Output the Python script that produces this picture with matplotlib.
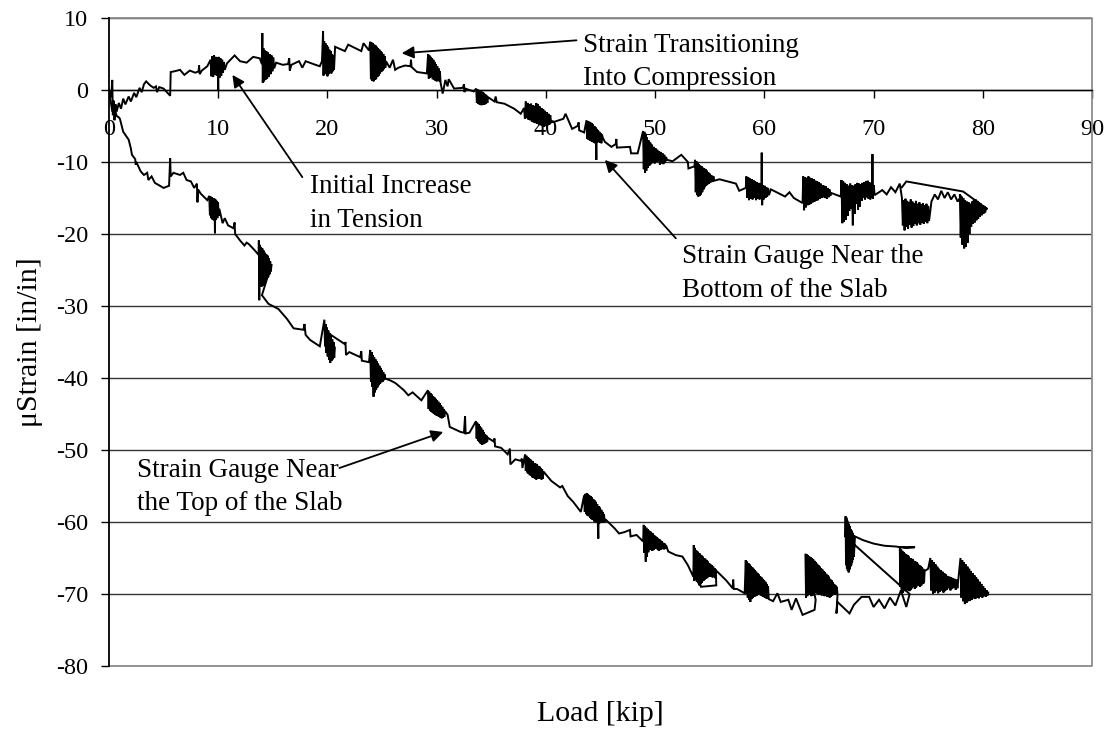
import matplotlib
matplotlib.use("Agg")
import matplotlib.pyplot as plt

plt.rcParams['font.family'] = ['Liberation Serif', 'DejaVu Serif']
plt.rcParams['axes.unicode_minus'] = False

# ---------------- data ----------------
# Strain gauge near the bottom of the slab (upper curve)
bottom_x = [
    0.0, 0.2, 0.3, 0.35, 0.45, 0.5, 0.6, 0.7, 0.9, 1.1, 1.3, 1.5, 1.8, 2.0, 2.3, 2.5, 2.8, 3.0, 3.2, 3.4,
    3.8, 4.1, 4.3, 4.4, 4.6, 5.0, 5.6, 5.65, 6.0, 6.5, 6.9, 7.4, 7.9, 8.2, 8.25, 8.3, 8.5, 9.0,
    9.30, 9.38, 9.46, 9.54, 9.62, 9.70, 9.78, 9.86, 9.94, 10.00, 10.04, 10.12, 10.20, 10.28, 10.36, 10.44, 10.52, 10.60,
    10.8, 11.5, 12.0, 12.6, 13.2, 13.8, 14.0,
    14.04, 14.08, 14.14, 14.20, 14.26, 14.32, 14.40, 14.48, 14.56, 14.64, 14.72, 14.80, 14.88, 14.96, 15.04, 15.12,
    15.3, 15.9, 16.4, 16.5, 16.55, 16.7, 17.4, 17.7, 18.0, 18.9, 19.3, 19.5,
    19.60, 19.64, 19.70, 19.76, 19.82, 19.88, 19.94, 20.00, 20.06, 20.12, 20.18, 20.24, 20.30, 20.36, 20.42, 20.48, 20.54, 20.60, 20.66, 20.70,
    21.6, 21.9, 23.1, 23.3, 23.8,
    23.92, 23.98, 24.04, 24.10, 24.16, 24.22, 24.28, 24.34, 24.40, 24.46, 24.52, 24.58, 24.64, 24.70, 24.76, 24.82, 24.88, 24.94, 25.00, 25.06, 25.12, 25.18, 25.24, 25.30, 25.36,
    25.7, 26.0, 26.2, 26.5, 27.1, 27.6, 27.65, 27.7, 28.2, 29.1,
    29.22, 29.28, 29.34, 29.40, 29.46, 29.52, 29.58, 29.64, 29.70, 29.76, 29.82, 29.88, 29.94, 30.00, 30.06, 30.12, 30.18, 30.24, 30.30, 30.36,
    30.55, 30.8, 31.0, 31.1, 31.6, 32.4, 32.5, 32.55, 32.6, 33.4,
    33.62, 33.68, 33.74, 33.80, 33.86, 33.92, 33.98, 34.04, 34.10, 34.16, 34.22, 34.28, 34.34, 34.40, 34.46, 34.52, 34.58, 34.64, 34.70,
    35.3, 35.4, 35.5, 36.2, 37.1, 37.7,
    38.00, 38.08, 38.16, 38.24, 38.32, 38.40, 38.48, 38.56, 38.64, 38.72, 38.80, 38.88, 38.96, 39.04, 39.12, 39.20,
    39.28, 39.36, 39.44, 39.52, 39.60, 39.68, 39.76, 39.84, 39.92, 40.00, 40.08, 40.16, 40.24, 40.32, 40.40, 40.48,
    40.8, 41.6, 41.8, 42.4, 42.9, 43.0, 43.05, 43.5,
    43.72, 43.78, 43.84, 43.90, 43.96, 44.02, 44.08, 44.14, 44.20, 44.26, 44.32, 44.38, 44.44, 44.50, 44.56, 44.62, 44.66, 44.72, 44.78, 44.84, 44.90, 44.96, 45.02, 45.08, 45.14, 45.20,
    45.4, 46.0, 46.4, 46.45, 46.5, 47.7, 47.8, 48.4,
    48.90, 48.96, 49.02, 49.08, 49.14, 49.20, 49.26, 49.32, 49.40, 49.48, 49.56, 49.64, 49.72, 49.80, 49.88,
    49.96, 50.04, 50.12, 50.20, 50.28, 50.36, 50.44, 50.52, 50.60, 50.68, 50.76, 50.84, 50.92, 51.00,
    51.1, 51.6, 52.4, 53.0, 53.05, 53.6,
    53.66, 53.72, 53.78, 53.84, 53.90, 53.96, 54.02, 54.08, 54.14, 54.20, 54.26, 54.32, 54.38, 54.44, 54.50,
    54.56, 54.62, 54.68, 54.74, 54.80, 54.86, 54.92, 54.98, 55.04, 55.10, 55.16, 55.22, 55.28, 55.34, 55.40,
    55.9, 57.4, 57.7, 58.3,
    58.36, 58.44, 58.52, 58.60, 58.68, 58.76, 58.84, 58.92, 59.00, 59.08, 59.16, 59.24, 59.32, 59.40,
    59.48, 59.56, 59.64, 59.72, 59.76, 59.80, 59.86, 59.94, 60.02, 60.10, 60.18, 60.26, 60.34, 60.42,
    60.6, 61.9, 62.3, 62.7, 63.5,
    63.56, 63.64, 63.72, 63.80, 63.88, 63.96, 64.04, 64.12, 64.20, 64.28, 64.36, 64.44, 64.52, 64.60, 64.68, 64.76, 64.84,
    64.92, 65.00, 65.08, 65.16, 65.24, 65.32, 65.40, 65.48, 65.56, 65.64, 65.72, 65.80, 65.88, 65.96, 66.04, 66.12,
    67.0,
    67.06, 67.14, 67.22, 67.30, 67.38, 67.46, 67.54, 67.62, 67.70, 67.78, 67.86, 67.94, 68.02, 68.10, 68.18, 68.26, 68.34, 68.42, 68.50, 68.58,
    68.66, 68.74, 68.82, 68.90, 68.98, 69.06, 69.14, 69.22, 69.30, 69.38, 69.46, 69.54, 69.62, 69.70, 69.78, 69.86, 69.90, 69.94, 70.02, 70.10,
    70.5, 70.8, 71.2, 71.6, 72.0, 72.4,
    72.60, 72.68, 72.76, 72.84, 72.92, 73.00, 73.08, 73.16, 73.24, 73.32, 73.40, 73.48, 73.56, 73.64, 73.72, 73.80,
    73.88, 73.96, 74.04, 74.12, 74.20, 74.28, 74.36, 74.44, 74.52, 74.60, 74.68, 74.76, 74.84, 74.92, 75.00, 75.08,
    75.3, 75.6, 75.9, 76.2, 76.5, 76.8, 77.1, 77.4, 77.7, 78.0,
    77.90, 77.98, 78.06, 78.14, 78.22, 78.30, 78.38, 78.46, 78.54, 78.62, 78.70, 78.78, 78.86, 78.94, 79.02, 79.10,
    79.18, 79.26, 79.34, 79.42, 79.50, 79.58, 79.66, 79.74, 79.82, 79.90, 79.98, 80.06, 80.14, 80.22, 80.30, 80.40,
    80.2, 78.2, 73.0, 72.6]
bottom_y = [
    0.0, -1.0, 1.4, -3.5, -1.5, -4.2, -2.0, -3.0, -1.8, -2.6, -1.2, -2.0, -0.9, -1.6, -0.4, -1.0, 0.3, -0.3, 0.8, 1.2,
    0.6, 0.3, 0.5, -0.3, 0.4, 0.2, -0.8, 2.5, 2.6, 2.8, 2.1, 2.7, 2.4, 2.6, 3.4, 2.2, 2.7, 3.3,
    4.2, 1.9, 4.7, 1.8, 4.8, 2.1, 4.6, 2.0, 4.5, 0.0, 4.6, 1.7, 4.4, 2.0, 4.2, 2.4, 3.9, 2.8,
    3.7, 4.8, 4.0, 3.8, 4.6, 4.4, 3.6,
    7.9, 1.0, 5.8, 1.2, 5.5, 1.4, 5.4, 1.6, 5.2, 1.8, 5.0, 2.2, 4.8, 2.6, 4.5, 3.0,
    3.8, 3.5, 3.6, 4.4, 2.7, 3.5, 4.0, 3.1, 4.0, 3.5, 3.3, 4.0,
    8.2, 2.0, 6.8, 2.2, 6.5, 2.5, 6.2, 1.9, 6.0, 2.2, 5.6, 2.4, 5.4, 2.3, 5.0, 2.6, 4.8, 2.8, 4.6, 6.0,
    5.4, 6.3, 5.4, 6.5, 5.5,
    6.7, 1.5, 6.6, 1.3, 6.5, 1.2, 6.3, 1.4, 6.2, 1.5, 6.0, 1.8, 5.8, 2.0, 5.6, 2.3, 5.4, 2.5, 5.2, 2.7, 5.0, 2.9, 4.7, 3.1, 4.0,
    3.1, 4.2, 2.8, 3.1, 3.4, 3.3, 4.2, 3.2, 2.5, 2.3,
    5.0, 1.6, 4.8, 1.7, 4.6, 1.8, 4.4, 1.5, 4.2, 1.4, 3.9, 1.3, 3.6, 1.2, 3.3, 1.3, 3.0, 1.2, 2.6, 1.0,
    -0.5, 1.4, 0.5, 1.5, 0.2, 0.3, 0.8, -0.3, 0.2, -0.2,
    0.2, -1.8, 0.1, -1.9, 0.0, -2.0, -0.1, -2.1, -0.2, -2.1, -0.3, -2.0, -0.4, -2.0, -0.6, -1.9, -0.8, -1.8, -1.0,
    -1.6, -0.9, -1.7, -1.9, -2.6, -3.3,
    -2.5, -4.0, -1.6, -3.9, -1.8, -4.1, -2.0, -4.2, -1.9, -4.4, -2.1, -4.5, -2.2, -4.6, -1.8, -4.7,
    -2.0, -4.8, -2.3, -4.9, -2.5, -5.0, -2.7, -5.1, -2.9, -5.0, -3.1, -4.9, -3.3, -4.8, -3.5, -4.5,
    -4.4, -4.0, -3.3, -5.4, -5.0, -4.5, -5.6, -5.9,
    -4.2, -6.8, -4.3, -6.9, -4.4, -7.0, -4.5, -7.1, -4.6, -7.2, -4.8, -7.3, -5.0, -7.4, -5.2, -9.7, -5.4, -7.3, -5.6, -7.2, -5.8, -7.3, -6.0, -7.4, -6.2, -6.6,
    -7.2, -7.9, -7.5, -6.8, -8.0, -7.9, -8.8, -8.8,
    -5.7, -11.0, -5.9, -11.5, -6.2, -11.2, -6.6, -10.8, -7.0, -10.5, -7.3, -10.3, -7.6, -10.1, -7.9,
    -10.2, -8.1, -10.0, -8.3, -9.9, -8.5, -10.4, -8.6, -10.2, -8.8, -10.3, -9.0, -10.1, -9.3,
    -9.7, -9.9, -9.0, -10.0, -10.9, -10.6,
    -9.7, -14.2, -9.9, -14.6, -10.1, -14.8, -10.3, -14.7, -10.5, -14.5, -10.6, -14.2, -10.8, -13.8, -10.9,
    -13.5, -11.0, -13.3, -11.2, -13.1, -11.4, -13.0, -11.6, -12.9, -11.8, -12.8, -11.9, -12.7, -12.0, -12.6,
    -12.4, -13.0, -14.0, -13.6,
    -12.0, -15.0, -12.1, -15.3, -12.3, -15.1, -12.4, -15.2, -12.5, -15.0, -12.7, -15.3, -12.8, -15.1,
    -12.9, -15.2, -13.0, -15.0, -8.7, -16.0, -13.2, -15.2, -13.3, -15.0, -13.5, -14.8, -13.6, -14.6,
    -13.8, -14.8, -14.2, -15.0, -15.7,
    -12.0, -16.7, -12.1, -16.3, -12.2, -16.0, -12.0, -15.9, -12.2, -15.8, -12.3, -15.6, -12.4, -15.5, -12.6, -15.4, -12.7,
    -15.3, -12.8, -15.1, -13.0, -15.0, -13.2, -14.9, -13.3, -15.0, -13.4, -15.1, -13.6, -14.9, -13.8, -14.7, -14.3,
    -14.8,
    -12.5, -18.5, -12.7, -18.3, -12.9, -18.0, -13.1, -17.5, -13.3, -16.8, -13.0, -16.5, -13.2, -18.8, -13.3, -17.2, -13.1, -15.8, -12.9, -16.6,
    -13.0, -16.2, -13.1, -15.4, -12.9, -15.0, -12.8, -15.2, -12.7, -14.9, -12.6, -15.1, -12.8, -15.2, -13.0, -15.0, -8.9, -15.1, -13.2, -14.6,
    -14.2, -13.9, -14.5, -13.5, -14.2, -13.0,
    -15.0, -18.8, -15.3, -19.5, -15.1, -19.0, -15.4, -19.3, -15.6, -18.7, -15.2, -19.1, -15.5, -18.9, -15.7, -18.6,
    -15.4, -18.8, -15.8, -18.5, -15.6, -18.7, -15.9, -18.4, -15.7, -18.6, -16.0, -18.3, -15.8, -18.5, -16.1, -18.2,
    -15.5, -14.5, -15.2, -14.0, -15.0, -14.2, -15.2, -14.5, -15.5, -14.8,
    -14.5, -20.5, -14.8, -21.5, -15.0, -22.0, -15.3, -21.8, -15.5, -21.2, -15.6, -20.0, -15.8, -19.0, -15.5, -18.6,
    -15.3, -18.4, -15.2, -18.1, -15.4, -17.9, -15.6, -17.6, -15.8, -17.4, -16.0, -17.2, -16.1, -17.0, -16.3, -16.6,
    -16.3, -14.1, -12.7, -13.5]

# Strain gauge near the top of the slab (lower curve)
top_x = [
    0.0, 0.2, 0.3, 0.5, 0.7, 0.9, 1.0, 1.3, 1.8, 2.0, 2.1, 2.4, 2.45, 2.5, 2.9, 3.2, 3.5, 3.6, 3.9, 4.2, 5.0, 5.5,
    5.6, 5.65, 5.9, 6.5, 6.8, 7.1, 7.5, 7.8, 8.05, 8.1, 8.15, 8.4, 9.0,
    9.18, 9.24, 9.30, 9.36, 9.42, 9.48, 9.54, 9.60, 9.66, 9.70, 9.74, 9.80, 9.86, 9.92, 9.98, 10.04, 10.10,
    10.4, 10.6, 10.9, 11.4, 11.5, 11.55, 12.0, 12.4, 12.6, 12.8, 13.3, 13.7,
    13.72, 13.76, 13.80, 13.86, 13.92, 13.98, 14.04, 14.10, 14.16, 14.22, 14.28, 14.34, 14.40, 14.46, 14.52, 14.58, 14.64, 14.70, 14.76, 14.82, 14.88,
    14.0, 14.6, 15.5, 16.3, 16.9, 17.8, 17.9, 18.0, 18.4, 19.3,
    19.72, 19.78, 19.84, 19.90, 19.96, 20.02, 20.08, 20.14, 20.20, 20.26, 20.32, 20.38, 20.44, 20.50, 20.56, 20.62, 20.68, 20.10,
    21.0, 21.6, 21.65, 21.7, 22.0, 23.0, 23.1, 23.15, 23.8,
    23.92, 23.98, 24.04, 24.10, 24.16, 24.22, 24.28, 24.34, 24.40, 24.46, 24.52, 24.58, 24.64, 24.70, 24.76, 24.82, 24.88, 24.94, 25.00, 25.06, 25.12, 25.18, 25.24, 25.30,
    25.7, 26.1, 26.3, 27.0, 27.4, 27.8, 28.6,
    29.20, 29.26, 29.32, 29.38, 29.44, 29.50, 29.56, 29.62, 29.68, 29.74, 29.80, 29.86, 29.92, 29.98,
    30.04, 30.10, 30.16, 30.22, 30.28, 30.34, 30.40, 30.46, 30.52, 30.58, 30.64, 30.70, 30.76,
    31.0, 31.2, 32.2, 32.5, 32.6, 32.65, 33.0,
    33.60, 33.66, 33.72, 33.78, 33.84, 33.90, 33.96, 34.02, 34.08, 34.14, 34.20, 34.26, 34.32, 34.38, 34.44, 34.50, 34.56, 34.62, 34.68,
    35.2, 35.3, 35.35, 35.9, 36.5, 36.7, 36.75, 37.2, 37.7, 37.8, 37.85,
    38.10, 38.16, 38.22, 38.28, 38.34, 38.40, 38.46, 38.52, 38.58, 38.64, 38.70, 38.76, 38.82, 38.88, 38.94,
    39.00, 39.06, 39.12, 39.18, 39.24, 39.30, 39.36, 39.42, 39.48, 39.54, 39.60, 39.66, 39.72, 39.78,
    40.5, 41.3, 41.5, 42.0, 42.5, 43.2,
    43.50, 43.56, 43.62, 43.68, 43.74, 43.80, 43.86, 43.92, 43.98, 44.04, 44.10, 44.16, 44.22, 44.28, 44.34, 44.40, 44.46,
    44.52, 44.58, 44.64, 44.70, 44.76, 44.80, 44.84, 44.90, 44.96, 45.02, 45.08, 45.14, 45.20, 45.26, 45.32, 45.38,
    45.5, 46.3, 46.7, 47.2, 47.7, 47.75, 48.3, 48.9,
    48.96, 49.02, 49.08, 49.14, 49.20, 49.26, 49.32, 49.38, 49.44, 49.50, 49.56, 49.62, 49.68, 49.74, 49.80, 49.86, 49.92, 49.98,
    50.04, 50.10, 50.16, 50.22, 50.28, 50.34, 50.40, 50.46, 50.52, 50.58, 50.64, 50.70, 50.76, 50.82, 50.88, 50.94, 51.00,
    51.2, 51.9, 52.5, 53.0, 53.5,
    53.54, 53.58, 53.64, 53.70, 53.76, 53.82, 53.88, 53.94, 54.00, 54.06, 54.12, 54.18, 54.24, 54.30, 54.36, 54.42, 54.48, 54.54, 54.60, 54.66,
    54.72, 54.78, 54.84, 54.90, 54.96, 55.02, 55.08, 55.14, 55.20, 55.26, 55.32, 55.38, 55.44, 55.50, 55.56, 55.60, 54.20, 54.00, 55.70,
    56.5, 57.1, 57.15, 57.2, 57.5, 58.2,
    58.30, 58.36, 58.42, 58.48, 58.54, 58.60, 58.66, 58.72, 58.78, 58.84, 58.90, 58.96, 59.02, 59.08, 59.14, 59.20, 59.26, 59.32,
    59.38, 59.44, 59.50, 59.56, 59.62, 59.68, 59.74, 59.80, 59.86, 59.92, 59.98, 60.04, 60.10, 60.16, 60.22, 60.28, 60.34, 60.40,
    60.8, 61.2, 61.5, 62.2, 62.5, 62.9, 63.5, 64.6, 64.7,
    63.76, 63.82, 63.88, 63.94, 64.00, 64.06, 64.12, 64.18, 64.24, 64.30, 64.36, 64.42, 64.48, 64.54, 64.60, 64.66, 64.72, 64.78, 64.84, 64.90, 64.96, 65.02, 65.08, 65.14, 65.20,
    65.26, 65.32, 65.38, 65.44, 65.50, 65.56, 65.62, 65.68, 65.74, 65.80, 65.86, 65.92, 65.98, 66.04, 66.10, 66.16, 66.22, 66.28, 66.34, 66.40, 66.46, 66.52, 66.58, 66.64, 66.70,
    66.6, 66.7, 67.8, 68.2, 68.9, 69.6, 70.0, 70.5, 71.0, 71.5, 72.0, 72.5, 73.0, 73.3,
    67.40, 67.44, 67.48, 67.52, 67.56, 67.60, 67.64, 67.68, 67.72, 67.76, 67.80, 67.84, 67.88, 67.92, 67.96, 68.00, 68.04, 68.08, 68.12, 68.16, 68.20, 68.30,
    69.0, 70.0, 71.0, 72.0, 73.0, 73.8,
    72.40, 72.46, 72.52, 72.58, 72.64, 72.70, 72.76, 72.82, 72.88, 72.94, 73.00, 73.06, 73.12, 73.18, 73.24, 73.30, 73.36, 73.42, 73.48, 73.54,
    73.60, 73.66, 73.72, 73.78, 73.84, 73.90, 73.96, 74.02, 74.08, 74.14, 74.20, 74.26, 74.32, 74.38, 74.44, 74.50, 74.56, 74.62, 74.68,
    75.0,
    75.20, 75.28, 75.36, 75.44, 75.52, 75.60, 75.68, 75.76, 75.84, 75.92, 76.00, 76.08, 76.16, 76.24, 76.32, 76.40,
    76.48, 76.56, 76.64, 76.72, 76.80, 76.88, 76.96, 77.04, 77.12, 77.20, 77.28, 77.36, 77.44, 77.52, 77.60, 77.68,
    77.96, 78.04, 78.12, 78.20, 78.28, 78.36, 78.44, 78.52, 78.60, 78.68, 78.76, 78.84, 78.92, 79.00, 79.08, 79.16, 79.24,
    79.32, 79.40, 79.48, 79.56, 79.64, 79.72, 79.80, 79.88, 79.96, 80.04, 80.12, 80.20, 80.28, 80.36, 80.44, 80.50]
top_y = [
    0.0, -2.0, -3.0, -2.5, -3.6, -3.8, -4.0, -5.8, -6.9, -8.1, -9.0, -9.6, -10.4, -10.0, -11.3, -11.8, -11.5, -12.5, -12.0, -12.9, -13.6, -13.3,
    -9.5, -12.0, -11.5, -11.8, -11.5, -12.5, -12.7, -13.6, -13.0, -15.6, -13.8, -14.4, -15.3,
    -14.7, -17.4, -14.8, -17.8, -14.9, -18.0, -15.0, -18.1, -15.1, -19.9, -15.2, -18.0, -15.4, -17.8, -15.6, -17.5, -16.5,
    -18.5, -17.8, -18.8, -19.2, -18.4, -20.0, -20.9, -21.6, -21.2, -21.4, -22.2, -22.9,
    -20.9, -29.2, -21.5, -27.0, -21.8, -27.3, -22.0, -27.2, -22.3, -27.0, -22.6, -26.6, -22.8, -26.2, -23.0, -26.0, -23.4, -25.6, -23.8, -25.2, -24.2,
    -28.5, -29.7, -30.4, -31.8, -33.1, -33.3, -32.5, -34.0, -34.7, -35.6,
    -31.9, -35.6, -32.5, -36.5, -33.0, -37.0, -33.4, -37.5, -33.8, -37.9, -34.2, -37.6, -34.6, -37.4, -35.0, -37.2, -35.8, -33.8,
    -34.7, -35.3, -35.0, -36.8, -36.4, -37.1, -36.3, -37.6, -37.8,
    -36.1, -40.5, -36.4, -41.2, -36.8, -42.6, -37.1, -42.0, -37.4, -41.6, -37.7, -41.3, -38.0, -41.0, -38.3, -40.8, -38.6, -40.6, -38.9, -40.5, -39.2, -40.3, -39.5, -40.1,
    -40.3, -40.6, -40.8, -41.7, -42.4, -42.0, -43.1,
    -41.7, -44.3, -41.9, -44.5, -42.1, -44.7, -42.3, -44.8, -42.5, -45.0, -42.7, -45.1, -42.9, -45.2,
    -43.1, -45.3, -43.3, -45.4, -43.5, -45.5, -43.8, -45.6, -44.0, -45.5, -44.3, -45.4, -44.6,
    -45.1, -46.8, -47.5, -47.6, -45.3, -47.7, -47.6,
    -46.0, -48.4, -46.2, -48.7, -46.4, -48.9, -46.7, -49.1, -46.9, -49.3, -47.2, -49.2, -47.5, -49.1, -47.8, -49.0, -48.0, -48.9, -48.3,
    -48.8, -48.4, -49.5, -49.7, -50.6, -49.8, -52.0, -51.3, -51.5, -51.2, -52.5,
    -50.6, -52.9, -50.8, -53.1, -51.0, -53.3, -51.1, -53.5, -51.3, -53.6, -51.5, -53.8, -51.6, -53.9, -51.8,
    -54.0, -51.9, -54.1, -52.0, -54.0, -52.2, -53.9, -52.3, -54.0, -52.5, -54.1, -52.7, -54.0, -53.0,
    -54.3, -55.2, -55.0, -56.4, -57.2, -58.6,
    -56.3, -58.6, -56.1, -58.9, -56.0, -59.1, -56.1, -59.2, -56.3, -59.4, -56.4, -59.6, -56.6, -59.7, -56.8, -59.9, -57.0,
    -60.0, -57.2, -60.1, -57.5, -60.2, -62.3, -57.8, -60.2, -58.0, -60.1, -58.3, -60.0, -58.6, -60.1, -58.9, -60.0,
    -59.7, -60.9, -61.6, -61.4, -61.1, -62.0, -61.8, -62.7,
    -60.4, -64.3, -60.6, -65.5, -60.8, -64.8, -61.0, -64.2, -61.2, -63.9, -61.3, -63.8, -61.5, -64.0, -61.6, -63.9, -61.8, -63.7,
    -62.0, -63.6, -62.1, -63.8, -62.3, -64.0, -62.4, -63.9, -62.6, -63.8, -62.7, -63.7, -62.9, -63.8, -63.0, -63.7, -63.2,
    -64.1, -64.6, -64.8, -66.0, -67.6,
    -63.2, -68.2, -63.6, -68.0, -63.9, -68.3, -64.1, -68.5, -64.3, -68.8, -64.4, -68.6, -64.6, -68.4, -64.8, -68.2, -65.0, -68.0, -65.1, -67.9,
    -65.3, -67.8, -65.5, -67.6, -65.7, -67.5, -65.9, -67.6, -66.0, -67.7, -66.2, -67.6, -66.4, -67.8, -66.6, -68.8, -69.0, -68.0, -66.9,
    -68.1, -69.2, -68.0, -69.3, -69.3, -69.9,
    -65.3, -70.0, -65.5, -70.5, -65.7, -70.8, -65.9, -71.1, -66.1, -70.7, -66.3, -70.5, -66.5, -70.4, -66.7, -70.3, -66.9, -70.2,
    -67.1, -70.1, -67.3, -70.0, -67.5, -70.2, -67.7, -70.3, -67.9, -70.4, -68.1, -70.5, -68.3, -70.6, -68.6, -70.6, -68.9, -70.7,
    -71.0, -69.9, -71.1, -70.8, -72.2, -70.6, -72.9, -72.2, -70.8,
    -64.4, -70.5, -64.5, -70.3, -64.6, -70.0, -64.8, -70.1, -64.9, -70.3, -65.0, -70.2, -65.2, -70.0, -65.4, -69.8, -65.6, -69.9, -65.8, -70.0, -66.0, -70.1, -66.2, -70.0, -66.4,
    -70.2, -66.6, -70.1, -66.8, -70.3, -67.0, -70.2, -67.2, -70.4, -67.4, -70.3, -67.6, -70.5, -67.9, -70.4, -68.1, -70.2, -68.4, -70.0, -68.6, -70.1, -68.8, -70.0, -69.0, -70.1,
    -72.7, -71.1, -72.7, -71.5, -70.4, -70.4, -71.8, -70.8, -72.0, -70.5, -71.6, -69.5, -71.8, -70.0,
    -62.0, -59.2, -66.0, -59.4, -66.5, -59.8, -66.8, -60.0, -67.0, -60.3, -66.6, -60.6, -66.2, -61.0, -66.0, -61.2, -65.6, -61.5, -65.2, -61.8, -64.8, -62.0,
    -62.5, -63.0, -63.3, -63.4, -63.6, -63.5,
    -63.5, -69.0, -63.8, -69.5, -64.0, -69.8, -64.2, -69.6, -64.4, -69.4, -64.5, -69.2, -64.6, -69.5, -64.8, -69.6, -65.0, -69.4, -65.1, -69.2,
    -65.2, -69.0, -65.4, -69.3, -65.5, -69.1, -65.6, -68.9, -65.8, -68.8, -66.0, -69.0, -66.1, -68.8, -66.3, -68.6, -66.5, -68.5, -66.8,
    -66.5,
    -65.0, -69.5, -65.3, -70.0, -65.6, -69.8, -65.9, -69.6, -66.2, -69.9, -66.5, -69.7, -66.7, -69.5, -66.9, -69.8,
    -67.1, -69.6, -67.3, -69.4, -67.5, -69.2, -67.6, -69.5, -67.7, -69.3, -67.8, -69.1, -67.9, -69.4, -68.0, -69.2,
    -65.0, -70.5, -65.3, -71.0, -65.6, -71.4, -65.9, -71.2, -66.2, -71.0, -66.5, -70.9, -66.8, -70.8, -67.1, -70.6, -67.4,
    -70.7, -67.7, -70.5, -68.0, -70.6, -68.3, -70.4, -68.6, -70.5, -68.9, -70.3, -69.2, -70.4, -69.5, -70.2, -69.8]

x_ticks = [0, 10, 20, 30, 40, 50, 60, 70, 80, 90]
y_ticks = [10, 0, -10, -20, -30, -40, -50, -60, -70, -80]

assert len(bottom_x) == len(bottom_y), (len(bottom_x), len(bottom_y))
assert len(top_x) == len(top_y), (len(top_x), len(top_y))

# ---------------- figure ----------------
W, H = 1109, 734
fig = plt.figure(figsize=(W / 100, H / 100), dpi=100)
ax = fig.add_axes([109 / W, 68 / H, (1092 - 109) / W, (666 - 18) / H])

ax.plot(bottom_x, bottom_y, color='black', lw=1.4, solid_joinstyle='miter', zorder=3)
ax.plot(top_x, top_y, color='black', lw=1.4, solid_joinstyle='miter', zorder=3)

ax.set_xlim(0, 90)
ax.set_ylim(-80, 10)
ax.set_xticks(x_ticks)
ax.set_yticks(y_ticks)

ax.yaxis.grid(True, color='#333333', lw=1.0, zorder=0)
ax.set_axisbelow(True)

for s in ['top', 'right']:
    ax.spines[s].set_visible(False)
ax.spines['bottom'].set_position(('data', 0))
ax.spines['bottom'].set_color('black')
ax.spines['bottom'].set_linewidth(1.0)
ax.spines['left'].set_color('black')
ax.spines['left'].set_linewidth(1.3)

# plot-area border (gray), Excel style
ax.plot([0, 1, 1, 0], [1, 1, 0, 0], transform=ax.transAxes, color='#8c8c8c', lw=1.3, clip_on=False, zorder=1)

ax.tick_params(axis='x', direction='out', length=6, width=1.0, pad=15, labelsize=17.5)
ax.tick_params(axis='y', direction='out', length=6, width=1.0, pad=9, labelsize=17.5)

ax.set_xlabel('Load [kip]', fontsize=21.5)
ax.xaxis.set_label_coords(0.5, -(714 - 666) / (666 - 18))
ax.xaxis.label.set_va('center')
ax.set_ylabel('\u03bcStrain [in/in]', fontsize=21.5)
ax.yaxis.set_label_coords(-(109 - 30) / (1092 - 109), 0.5)
ax.yaxis.label.set_va('center')

fs = 19.5
arrow = dict(arrowstyle='-|>', color='black', lw=1.3, mutation_scale=18, shrinkA=0, shrinkB=0)

ax.text(43.4, 5.3, 'Strain Transitioning', fontsize=fs, va='baseline', ha='left')
ax.text(43.4, 0.7, 'Into Compression', fontsize=fs, va='baseline', ha='left')
ax.annotate('', xy=(26.8, 5.1), xytext=(42.8, 6.9), arrowprops=arrow)

ax.text(18.4, -14.3, 'Initial Increase', fontsize=fs, va='baseline', ha='left')
ax.text(18.4, -19.0, 'in Tension', fontsize=fs, va='baseline', ha='left')
ax.annotate('', xy=(11.3, 2.1), xytext=(17.7, -12.1), arrowprops=arrow)

ax.text(52.5, -24.0, 'Strain Gauge Near the', fontsize=fs, va='baseline', ha='left')
ax.text(52.5, -28.75, 'Bottom of the Slab', fontsize=fs, va='baseline', ha='left')
ax.annotate('', xy=(45.4, -9.7), xytext=(51.9, -20.6), arrowprops=arrow)

ax.text(2.6, -53.75, 'Strain Gauge Near', fontsize=fs, va='baseline', ha='left')
ax.text(2.6, -58.3, 'the Top of the Slab', fontsize=fs, va='baseline', ha='left')
ax.annotate('', xy=(30.6, -47.5), xytext=(21.1, -52.5), arrowprops=arrow)

fig.savefig('out.png', dpi=100, facecolor='white')
